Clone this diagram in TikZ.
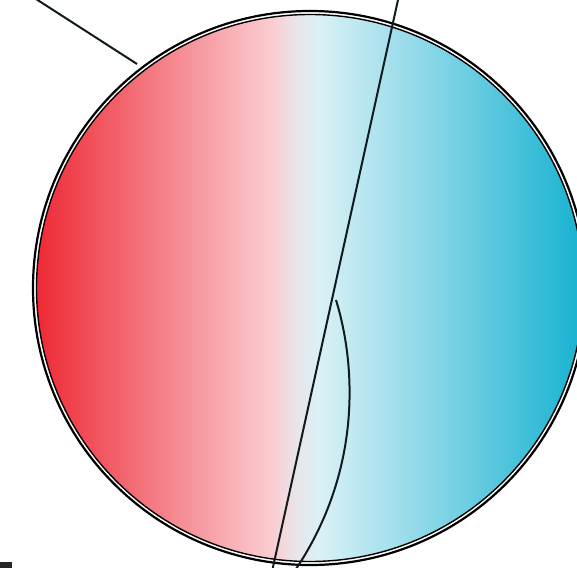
\documentclass[tikz,border=0pt]{standalone}
\definecolor{cRed}{HTML}{EE2A35}
\definecolor{cPink}{HTML}{FBCDD2}
\definecolor{cMid}{HTML}{E9E5EA}
\definecolor{cPale}{HTML}{D9F1F6}
\definecolor{cCyan}{HTML}{16B2D1}
\definecolor{ink}{HTML}{111A1E}
\pgfdeclarehorizontalshading{redcyan}{100bp}{%
  color(0bp)=(cRed); color(25bp)=(cRed); color(46.6bp)=(cPink);
  color(48.7bp)=(cMid); color(50.9bp)=(cPale); color(75bp)=(cCyan); color(100bp)=(cCyan)}
\tikzset{
  rim/.style={draw=black, line width=2.2pt},
  innerrim/.style={draw=black, line width=1.4pt},
  stroke/.style={draw=ink, line width=2pt, line cap=butt},
}
\begin{document}
\begin{tikzpicture}[x=1pt,y=-1pt]
\useasboundingbox (0,0) rectangle (577,567);
\clip (0,0) rectangle (577,567);
\coordinate (c) at (310,288);
% gradient disc
\shade[shading=redcyan] (c) circle[radius=273.5pt];
\draw[innerrim] (c) circle[radius=273.5pt];
\draw[rim] (c) circle[radius=277pt];
% lines
\coordinate (a1) at (36,-1);
\coordinate (a2) at (137,64);
\draw[stroke] (a1) -- (a2);
\coordinate (b1) at (398.2,-1);
\coordinate (b2) at (272.8,568);
\draw[stroke] (b1) -- (b2);
\coordinate (k0) at (336,300);
\coordinate (k3) at (296,569);
\draw[stroke] (k0) .. controls (356,365) and (362,470) .. (k3);
% small mark bottom-left
\fill[black!85] (0,562) rectangle (12,568);
\end{tikzpicture}
\end{document}
